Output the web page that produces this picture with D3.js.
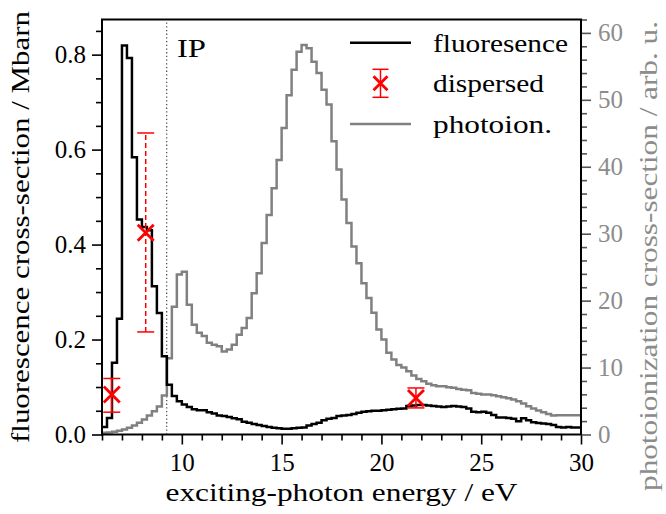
<!DOCTYPE html>
<html>
<head>
<meta charset="UTF-8">
<title>fluorescence vs photoionization</title>
<script src="https://cdn.jsdelivr.net/npm/d3@7"></script>
<style>
  body { margin: 0; background: #fff; }
  svg text { font-family: "Liberation Serif", "DejaVu Serif", serif; }
  .tick text { font-size: 25px; }
</style>
</head>
<body>
<script>
// histogram bins: 0.25 eV wide, starting at 6 eV
var binStart = 6, binWidth = 0.25;
var fluorescence = [
  0.016, 0.035, 0.151, 0.244, 0.819, 0.793, 0.584, 0.453, 0.437, 0.430,
  0.312, 0.256, 0.165, 0.105, 0.081, 0.070, 0.063, 0.058, 0.053, 0.051,
  0.051, 0.047, 0.044, 0.040, 0.039, 0.037, 0.034, 0.032, 0.027, 0.025,
  0.022, 0.020, 0.018, 0.016, 0.014, 0.013, 0.012, 0.012, 0.013, 0.014,
  0.015, 0.019, 0.022, 0.025, 0.030, 0.033, 0.035, 0.039, 0.040, 0.041,
  0.043, 0.046, 0.048, 0.049, 0.050, 0.050, 0.051, 0.052, 0.053, 0.054,
  0.055, 0.060, 0.061, 0.062, 0.062, 0.061, 0.060, 0.059, 0.058, 0.059,
  0.060, 0.059, 0.058, 0.055, 0.048, 0.047, 0.048, 0.046, 0.041, 0.036,
  0.036, 0.035, 0.033, 0.028, 0.034, 0.030, 0.026, 0.024, 0.023, 0.022,
  0.020, 0.016, 0.015, 0.016, 0.015, 0.015
];
var photoion = [
  0.25, 0.3, 0.4, 0.55, 0.75, 1.0, 1.34, 1.74, 2.24, 2.84,
  3.48, 4.2, 5.82, 11.4, 19.1, 23.9, 24.3, 19.4, 16.4, 15.2,
  14.7, 13.7, 13.4, 13.2, 12.4, 12.7, 13.4, 14.9, 15.9, 17.4,
  21.1, 24.1, 28.6, 32.8, 36.8, 41.0, 45.8, 50.7, 54.5, 57.2,
  58.2, 57.7, 55.7, 54.0, 51.5, 49.3, 43.8, 39.6, 35.1, 31.6,
  28.1, 25.6, 22.6, 20.4, 18.2, 15.7, 14.2, 12.2, 11.2, 10.4,
  10.0, 9.45, 8.8, 8.3, 7.96, 7.6, 7.36, 7.2, 7.2, 7.06,
  6.97, 6.8, 6.7, 6.6, 6.2, 6.07, 5.97, 5.97, 5.87, 5.72,
  5.57, 5.42, 5.22, 4.97, 4.63, 4.23, 3.88, 3.58, 3.33, 3.08,
  2.84, 2.88, 2.88, 2.88, 2.87, 2.86
];
// dispersed points: energy, value, lower, upper
var dispE = [6.49, 8.19, 21.73];
var dispV = [0.084, 0.425, 0.077];
var dispLo = [0.047, 0.216, 0.056];
var dispHi = [0.118, 0.635, 0.098];
var dispDashed = [false, true, false];
var ipEnergy = 9.24;
var xTicks = [10, 15, 20, 25, 30];
var yLeftTicks = [0, 0.2, 0.4, 0.6, 0.8];
var yRightTicks = [0, 10, 20, 30, 40, 50, 60];
var legendLabels = ["fluoresence", "dispersed", "photoion."];

var W = 666, H = 514;
var L = 102, R = 581, T = 19.5, B = 434.5;
var grayCol = "#808080", redCol = "#ff0000", rightText = "#8c8c8c";
var serif = "'Liberation Serif', 'DejaVu Serif', serif";

var svg = d3.select("body").append("svg").attr("width", W).attr("height", H)
  .attr("font-family", serif);

var x = d3.scaleLinear().domain([6, 30]).range([L, R]);
var yL = d3.scaleLinear().domain([0, 0.874]).range([B, T]);
var yR = d3.scaleLinear().domain([0, 62]).range([B, T]);

function stepPoints(vals) {
  var pts = vals.map(function(v, i) { return [binStart + i * binWidth, v]; });
  pts.push([binStart + vals.length * binWidth, vals[vals.length - 1]]);
  return pts;
}

svg.append("clipPath").attr("id", "plotclip").append("rect")
  .attr("x", L).attr("y", T).attr("width", R - L).attr("height", B - T);
var plot = svg.append("g").attr("clip-path", "url(#plotclip)");

// IP line
plot.append("line")
  .attr("x1", x(ipEnergy)).attr("x2", x(ipEnergy)).attr("y1", B).attr("y2", T)
  .attr("stroke", "#555").attr("stroke-width", 1.3).attr("stroke-dasharray", "1.3,2.4");

var lineL = d3.line().x(function(d) { return x(d[0]); }).y(function(d) { return yL(d[1]); }).curve(d3.curveStepAfter);
var lineR = d3.line().x(function(d) { return x(d[0]); }).y(function(d) { return yR(d[1]); }).curve(d3.curveStepAfter);

plot.append("path").attr("d", lineR(stepPoints(photoion)))
  .attr("fill", "none").attr("stroke", grayCol).attr("stroke-width", 2.5);
plot.append("path").attr("d", lineL(stepPoints(fluorescence)))
  .attr("fill", "none").attr("stroke", "#000").attr("stroke-width", 2.5);

// error bars
var cap = 8.5, mk = 8;
dispE.forEach(function(e, i) {
  var g = svg.append("g").attr("stroke", redCol);
  g.append("line").attr("x1", x(e)).attr("x2", x(e))
    .attr("y1", yL(dispLo[i])).attr("y2", yL(dispHi[i]))
    .attr("stroke-width", 1.5).attr("stroke-dasharray", dispDashed[i] ? "5,3" : null);
  [dispLo[i], dispHi[i]].forEach(function(v) {
    g.append("line").attr("x1", x(e) - cap).attr("x2", x(e) + cap)
      .attr("y1", yL(v)).attr("y2", yL(v)).attr("stroke-width", 1.5);
  });
  g.append("path")
    .attr("d", "M" + (x(e) - mk) + "," + (yL(dispV[i]) - mk) + "L" + (x(e) + mk) + "," + (yL(dispV[i]) + mk) +
               "M" + (x(e) - mk) + "," + (yL(dispV[i]) + mk) + "L" + (x(e) + mk) + "," + (yL(dispV[i]) - mk))
    .attr("stroke-width", 2.8).attr("fill", "none");
});

// IP label
svg.append("text").attr("x", 177).attr("y", 57).attr("font-size", 26)
  .attr("textLength", 29).attr("lengthAdjust", "spacingAndGlyphs").text("IP");

// axes
function minor(step, lo, hi, majors) {
  var out = [];
  for (var v = lo; v <= hi + 1e-9; v += step) {
    var r = Math.round(v * 1000) / 1000;
    if (majors.indexOf(r) < 0) out.push(r);
  }
  return out;
}

var xAx = svg.append("g").attr("transform", "translate(0," + B + ")");
xAx.call(d3.axisBottom(x).tickValues(xTicks).tickSize(10).tickPadding(9).tickFormat(d3.format("d")));
xAx.append("g").call(d3.axisBottom(x).tickValues(minor(1, 6, 30, xTicks)).tickSize(6).tickFormat(""));

var yAx = svg.append("g").attr("transform", "translate(" + L + ",0)");
yAx.call(d3.axisLeft(yL).tickValues(yLeftTicks).tickSize(10).tickPadding(6).tickFormat(d3.format(".1f")));
yAx.append("g").call(d3.axisLeft(yL).tickValues(minor(0.05, 0, 0.85, yLeftTicks)).tickSize(6).tickFormat(""));

var yAx2 = svg.append("g").attr("transform", "translate(" + R + ",0)");
yAx2.call(d3.axisRight(yR).tickValues(yRightTicks).tickSize(10).tickPadding(7).tickFormat(d3.format("d")));
yAx2.append("g").call(d3.axisRight(yR).tickValues(minor(2, 0, 62, yRightTicks)).tickSize(6).tickFormat(""));

svg.selectAll(".domain").remove();
svg.selectAll("g").filter(function() { return this.hasAttribute("font-family"); })
  .attr("font-family", serif);
svg.selectAll(".tick line").attr("stroke-width", 1.6);
xAx.selectAll(".tick line").attr("stroke", "#000");
yAx.selectAll(".tick line").attr("stroke", "#000");
yAx2.selectAll(".tick line").attr("stroke", "#555");
svg.selectAll(".tick text").attr("fill", "#000");
yAx2.selectAll(".tick text").attr("fill", rightText);

// frame
svg.append("rect").attr("x", L).attr("y", T).attr("width", R - L).attr("height", B - T)
  .attr("fill", "none").attr("stroke", "#000").attr("stroke-width", 2);

// axis titles
svg.append("text").attr("x", (L + R) / 2).attr("y", 501).attr("text-anchor", "middle")
  .attr("font-size", 25).attr("textLength", 352).attr("lengthAdjust", "spacingAndGlyphs")
  .text("exciting-photon energy / eV");
svg.append("text").attr("transform", "translate(29," + (T + B) / 2 + ") rotate(-90)")
  .attr("text-anchor", "middle").attr("font-size", 25)
  .attr("textLength", 432).attr("lengthAdjust", "spacingAndGlyphs")
  .text("fluorescence cross-section / Mbarn");
svg.append("text").attr("transform", "translate(657,256) rotate(-90)")
  .attr("text-anchor", "middle").attr("font-size", 25).attr("fill", rightText)
  .attr("textLength", 470).attr("lengthAdjust", "spacingAndGlyphs")
  .text("photoionization cross-section / arb. u.");

// legend
var legY = [42.7, 83.3, 124];
var legW = [135, 111, 119];
var lg = svg.append("g");
lg.append("line").attr("x1", 350).attr("x2", 411).attr("y1", legY[0]).attr("y2", legY[0])
  .attr("stroke", "#000").attr("stroke-width", 2.5);
lg.append("line").attr("x1", 350).attr("x2", 411).attr("y1", legY[2]).attr("y2", legY[2])
  .attr("stroke", grayCol).attr("stroke-width", 2.5);
var lx = 380.5, ly = legY[1];
lg.append("line").attr("x1", lx).attr("x2", lx).attr("y1", ly - 14).attr("y2", ly + 14)
  .attr("stroke", redCol).attr("stroke-width", 1.5);
[ly - 14, ly + 14].forEach(function(v) {
  lg.append("line").attr("x1", lx - 8).attr("x2", lx + 8).attr("y1", v).attr("y2", v)
    .attr("stroke", redCol).attr("stroke-width", 1.5);
});
lg.append("path").attr("d", "M" + (lx - 7) + "," + (ly - 7) + "L" + (lx + 7) + "," + (ly + 7) +
  "M" + (lx - 7) + "," + (ly + 7) + "L" + (lx + 7) + "," + (ly - 7))
  .attr("stroke", redCol).attr("stroke-width", 2.8);
legendLabels.forEach(function(t, i) {
  lg.append("text").attr("x", 433).attr("y", legY[i] + 9).attr("font-size", 25)
    .attr("textLength", legW[i]).attr("lengthAdjust", "spacingAndGlyphs").text(t);
});
</script>
</body>
</html>
